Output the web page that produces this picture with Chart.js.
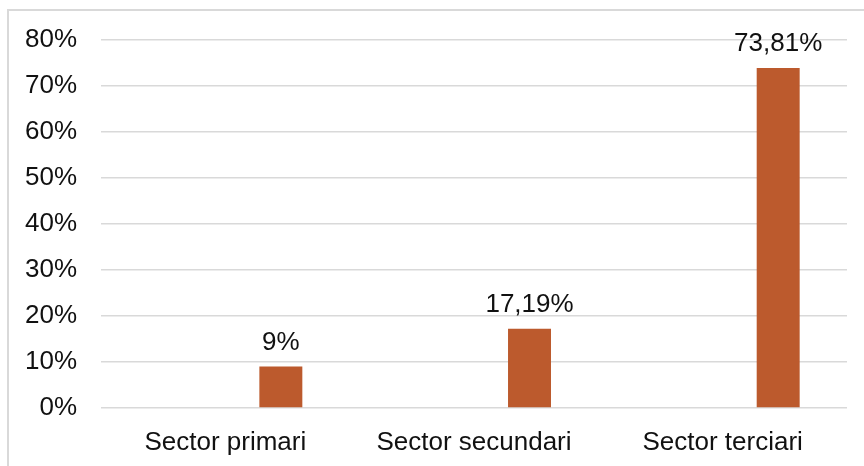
<!DOCTYPE html>
<html>
<head>
<meta charset="utf-8">
<script src="https://cdn.jsdelivr.net/npm/chart.js@4/dist/chart.umd.min.js"></script>
<style>
  html, body { margin: 0; padding: 0; background: #fff; }
  #wrap { position: relative; width: 864px; height: 466px; overflow: hidden; }
  #frame { position: absolute; left: 7px; top: 9px; right: -10px; bottom: -10px;
           border-left: 2px solid #d9d9d9; border-top: 2px solid #d9d9d9; }
  #sectorChart { position: absolute; left: 0; top: 0; }
</style>
</head>
<body>
<div id="wrap">
  <div id="frame"></div>
  <canvas id="sectorChart" width="864" height="466"></canvas>
</div>
<script>
// sectors and share of employment (%)
var categories = ["Sector primari", "Sector secundari", "Sector terciari"];
var emptySeries = [null, null, null];
var shareValues = [9, 17.19, 73.81];
var yTicks = [0, 10, 20, 30, 40, 50, 60, 70, 80];

var FONT = "'Liberation Sans', Arial, sans-serif";

// draws "9%", "17,19%" ... above each bar
var valueLabels = {
  id: 'valueLabels',
  afterDatasetsDraw: function(chart) {
    var ctx = chart.ctx;
    var meta = chart.getDatasetMeta(1);
    ctx.save();
    ctx.font = "26px " + FONT;
    ctx.fillStyle = "#111";
    ctx.textAlign = "center";
    ctx.textBaseline = "alphabetic";
    meta.data.forEach(function(bar, i) {
      var txt = String(shareValues[i]).replace('.', ',') + '%';
      ctx.fillText(txt, bar.x, bar.y - 17);
    });
    ctx.restore();
  }
};

var ctx = document.getElementById('sectorChart').getContext('2d');
var sectorChart = new Chart(ctx, {
  type: 'bar',
  data: {
    labels: categories,
    datasets: [{
      label: "",
      data: emptySeries,
      backgroundColor: "#4472c4"
    }, {
      label: "Ocupació",
      data: shareValues,
      backgroundColor: "#bc5a2d"
    }]
  },
  options: {
    responsive: false,
    animation: false,
    categoryPercentage: 0.893,
    barPercentage: 0.387,
    layout: {
      padding: { top: 39, right: 17, left: 0, bottom: 0 }
    },
    plugins: {
      legend: { display: false },
      tooltip: { enabled: false }
    },
    scales: {
      x: {
        grid: { display: false, drawTicks: false },
        border: { display: false },
        ticks: {
          padding: 19,
          color: "#111",
          font: { family: FONT, size: 26 }
        },
        afterFit: function(scale) { scale.height = 58; }
      },
      y: {
        min: 0,
        max: 80,
        afterBuildTicks: function(scale) {
          scale.ticks = yTicks.map(function(v) { return { value: v }; });
        },
        grid: { color: "#d9d9d9", lineWidth: 1.5, drawTicks: false },
        border: { display: false },
        ticks: {
          padding: 24,
          color: "#111",
          font: { family: FONT, size: 26 },
          callback: function(value) { return value + '%'; }
        },
        afterFit: function(scale) { scale.width = 101; }
      }
    }
  },
  plugins: [valueLabels]
});
</script>
</body>
</html>
